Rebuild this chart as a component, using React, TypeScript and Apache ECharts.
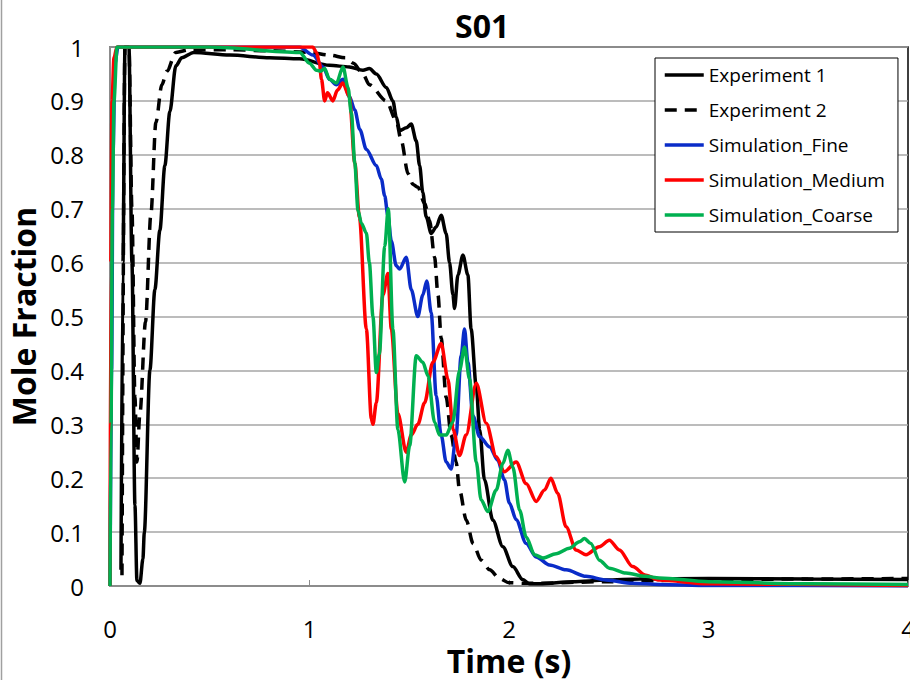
import React, { useEffect, useRef } from "react";
import * as echarts from "echarts";

// ---- Data (time in s, mole fraction) ----
const exp1T = [0.055, 0.065, 0.075, 0.095, 0.11, 0.125, 0.135, 0.15, 0.165, 0.172, 0.2, 0.225, 0.25, 0.275, 0.3, 0.33, 0.36, 0.42, 0.6, 0.8, 0.95, 1.1, 1.2, 1.268, 1.3, 1.335, 1.385, 1.418, 1.435, 1.452, 1.485, 1.51, 1.535, 1.552, 1.568, 1.585, 1.61, 1.635, 1.66, 1.685, 1.702, 1.719, 1.727, 1.744, 1.769, 1.794, 1.81, 1.836, 1.853, 1.877, 1.919, 1.969, 2.019, 2.069, 2.103, 2.153, 2.32, 2.486, 2.653, 3.0, 3.5, 4.0];
const exp1V = [0.03, 0.6, 1.0, 1.0, 0.6, 0.15, 0.01, 0.005, 0.05, 0.1, 0.4, 0.55, 0.66, 0.78, 0.88, 0.965, 0.98, 0.99, 0.985, 0.98, 0.978, 0.966, 0.963, 0.957, 0.96, 0.95, 0.925, 0.9, 0.87, 0.845, 0.85, 0.857, 0.826, 0.78, 0.73, 0.685, 0.654, 0.666, 0.688, 0.654, 0.6, 0.54, 0.515, 0.577, 0.614, 0.577, 0.477, 0.37, 0.29, 0.197, 0.122, 0.073, 0.036, 0.012, 0.004, 0.004, 0.008, 0.011, 0.013, 0.014, 0.013, 0.012];

const exp2T = [0.06, 0.075, 0.095, 0.11, 0.125, 0.135, 0.15, 0.178, 0.205, 0.23, 0.26, 0.285, 0.33, 0.4, 0.6, 0.8, 1.0, 1.1, 1.18, 1.22, 1.268, 1.3, 1.385, 1.435, 1.46, 1.494, 1.519, 1.543, 1.577, 1.602, 1.627, 1.644, 1.66, 1.685, 1.71, 1.735, 1.752, 1.786, 1.82, 1.86, 1.903, 1.952, 2.0, 2.1, 2.5, 3.0, 3.5, 4.0];
const exp2V = [0.02, 1.0, 1.0, 0.7, 0.35, 0.23, 0.32, 0.49, 0.69, 0.86, 0.93, 0.955, 0.99, 0.995, 0.995, 0.993, 0.99, 0.985, 0.98, 0.97, 0.95, 0.93, 0.9, 0.863, 0.826, 0.765, 0.745, 0.74, 0.71, 0.678, 0.61, 0.54, 0.46, 0.35, 0.28, 0.23, 0.178, 0.122, 0.079, 0.048, 0.03, 0.014, 0.006, 0.005, 0.008, 0.012, 0.013, 0.014];

const fineT = [0, 0.008, 0.015, 0.025, 0.04, 0.5, 0.95, 1.017, 1.068, 1.1, 1.135, 1.168, 1.2, 1.227, 1.252, 1.285, 1.335, 1.36, 1.377, 1.393, 1.41, 1.435, 1.452, 1.485, 1.51, 1.543, 1.568, 1.588, 1.61, 1.635, 1.66, 1.685, 1.71, 1.735, 1.76, 1.777, 1.794, 1.819, 1.853, 1.903, 1.944, 1.977, 2.002, 2.036, 2.086, 2.136, 2.203, 2.286, 2.386, 2.486, 2.62, 2.753, 3.0, 4.0];
const fineV = [0, 0.4, 0.8, 0.97, 1.0, 1.0, 1.0, 0.985, 0.963, 0.94, 0.93, 0.94, 0.908, 0.883, 0.847, 0.81, 0.78, 0.755, 0.724, 0.687, 0.64, 0.594, 0.588, 0.61, 0.55, 0.5, 0.54, 0.566, 0.507, 0.353, 0.28, 0.23, 0.217, 0.28, 0.427, 0.477, 0.415, 0.316, 0.277, 0.258, 0.233, 0.197, 0.154, 0.123, 0.079, 0.054, 0.039, 0.03, 0.018, 0.011, 0.005, 0.003, 0.001, 0.0];

const mediumT = [0, 0.004, 0.01, 0.02, 0.035, 0.5, 0.95, 1.017, 1.035, 1.05, 1.06, 1.076, 1.09, 1.117, 1.14, 1.167, 1.2, 1.227, 1.25, 1.285, 1.31, 1.318, 1.335, 1.368, 1.393, 1.41, 1.443, 1.485, 1.51, 1.543, 1.577, 1.618, 1.66, 1.694, 1.72, 1.752, 1.785, 1.836, 1.886, 1.936, 1.977, 2.036, 2.086, 2.136, 2.178, 2.21, 2.244, 2.286, 2.336, 2.386, 2.453, 2.503, 2.553, 2.62, 2.686, 2.753, 3.0, 4.0];
const mediumV = [0, 0.6, 0.9, 0.98, 1.0, 1.0, 1.0, 1.0, 0.99, 0.97, 0.94, 0.9, 0.915, 0.9, 0.92, 0.933, 0.908, 0.785, 0.685, 0.477, 0.31, 0.3, 0.34, 0.54, 0.58, 0.477, 0.32, 0.248, 0.28, 0.3, 0.34, 0.415, 0.45, 0.384, 0.29, 0.242, 0.28, 0.376, 0.302, 0.24, 0.212, 0.23, 0.19, 0.157, 0.178, 0.2, 0.172, 0.11, 0.067, 0.058, 0.073, 0.085, 0.067, 0.036, 0.02, 0.011, 0.004, 0.001];

const coarseT = [0, 0.005, 0.012, 0.02, 0.035, 0.5, 0.951, 1.0, 1.035, 1.055, 1.076, 1.1, 1.135, 1.168, 1.193, 1.21, 1.227, 1.243, 1.26, 1.285, 1.3, 1.318, 1.335, 1.35, 1.377, 1.395, 1.418, 1.443, 1.477, 1.502, 1.535, 1.568, 1.594, 1.627, 1.652, 1.685, 1.718, 1.752, 1.777, 1.802, 1.836, 1.86, 1.894, 1.936, 1.969, 1.994, 2.019, 2.053, 2.086, 2.128, 2.17, 2.236, 2.303, 2.353, 2.378, 2.41, 2.453, 2.503, 2.586, 2.686, 2.753, 3.0, 3.5, 4.0];
const coarseV = [0, 0.3, 0.7, 0.9, 1.0, 1.0, 0.99, 0.97, 0.957, 0.955, 0.96, 0.94, 0.933, 0.963, 0.925, 0.877, 0.785, 0.697, 0.673, 0.655, 0.6, 0.5, 0.396, 0.43, 0.63, 0.7, 0.477, 0.29, 0.193, 0.26, 0.427, 0.415, 0.39, 0.304, 0.28, 0.28, 0.304, 0.4, 0.443, 0.384, 0.23, 0.16, 0.138, 0.178, 0.227, 0.252, 0.221, 0.141, 0.091, 0.058, 0.052, 0.06, 0.07, 0.082, 0.088, 0.079, 0.048, 0.033, 0.024, 0.018, 0.015, 0.008, 0.004, 0.003];

const seriesNames = ["Experiment 1", "Experiment 2", "Simulation_Fine", "Simulation_Medium", "Simulation_Coarse"];
const seriesColors = ["#000000", "#000000", "#0a2cc8", "#ff0000", "#00b050"];
const chartTitle = "S01";
const xAxisName = "Time (s)";
const yAxisName = "Mole Fraction";
const xMin = 0, xMax = 4, xStep = 1;
const yMin = 0, yMax = 1, yStep = 0.1;

const FONT = "'Open Sans', 'DejaVu Sans', sans-serif";

function zip(t: number[], v: number[]) {
  return t.map((x, i) => [x, v[i]]);
}

export default function App() {
  const ref = useRef<HTMLDivElement>(null);
  useEffect(() => {
    if (!ref.current) return;
    const chart = echarts.init(ref.current, null, { renderer: "svg" });
    const dataSets = [zip(exp1T, exp1V), zip(exp2T, exp2V), zip(fineT, fineV), zip(mediumT, mediumV), zip(coarseT, coarseV)];
    chart.setOption({
      animation: false,
      backgroundColor: "#ffffff",
      title: {
        text: chartTitle,
        left: 450,
        top: 4,
        textStyle: { fontFamily: FONT, fontSize: 32, fontWeight: "bold", color: "#000" },
      },
      legend: {
        orient: "vertical",
        left: 655,
        top: 58,
        padding: [7, 13, 7, 8],
        itemWidth: 39,
        itemHeight: 14,
        itemGap: 15,
        borderColor: "#000",
        borderWidth: 1,
        backgroundColor: "#fff",
        itemStyle: { opacity: 0 },
        lineStyle: { width: 3.5 },
        textStyle: { fontFamily: FONT, fontSize: 19, color: "#000", lineHeight: 20 },
        data: seriesNames,
      },
      graphic: [
        { type: "line", shape: { x1: 1.5, y1: 0, x2: 1.5, y2: 680 }, style: { stroke: "#a0a0a0", lineWidth: 1.5 } },
      ],
      grid: {
        left: 110,
        right: 2,
        top: 47,
        bottom: 94,
        containLabel: false,
        outerBoundsMode: "none",
        show: true,
        borderColor: "#000",
        borderWidth: 1.5,
      },
      xAxis: {
        type: "value",
        min: xMin,
        max: xMax,
        interval: xStep,
        name: xAxisName,
        nameLocation: "middle",
        nameGap: 56,
        nameTextStyle: { fontFamily: FONT, fontSize: 32, fontWeight: "bold", color: "#000", lineHeight: 30 },
        axisLine: { show: true, lineStyle: { color: "#8c8c8c", width: 2 } },
        axisTick: { show: true, inside: true, length: 6, lineStyle: { color: "#8c8c8c", width: 1 } },
        axisLabel: { fontFamily: FONT, fontSize: 24, color: "#000", margin: 31, lineHeight: 22 },
        splitLine: { show: false },
      },
      yAxis: {
        type: "value",
        min: yMin,
        max: yMax,
        interval: yStep,
        name: yAxisName,
        nameLocation: "middle",
        nameGap: 62,
        nameTextStyle: { fontFamily: FONT, fontSize: 32, fontWeight: "bold", color: "#000" },
        axisLine: { show: true, lineStyle: { color: "#8c8c8c", width: 2 } },
        axisTick: { show: false },
        axisLabel: {
          fontFamily: FONT,
          fontSize: 24,
          color: "#000",
          margin: 26,
          formatter: (v: number) => String(Math.round(v * 10) / 10),
        },
        splitLine: { show: true, lineStyle: { color: "#a6a6a6", width: 1.5 } },
      },
      series: seriesNames.map((name, i) => ({
        name,
        type: "line",
        data: dataSets[i],
        symbol: "none",
        smooth: 0.3,
        smoothMonotone: "x",
        z: 2 + i,
        lineStyle: { color: seriesColors[i], width: 3.5, type: i === 1 ? [12, 8] : "solid" },
        itemStyle: { color: seriesColors[i] },
      })),
    });
    return () => chart.dispose();
  }, []);
  return <div ref={ref} style={{ position: "fixed", left: 0, top: 0, width: 910, height: 680 }} />;
}
